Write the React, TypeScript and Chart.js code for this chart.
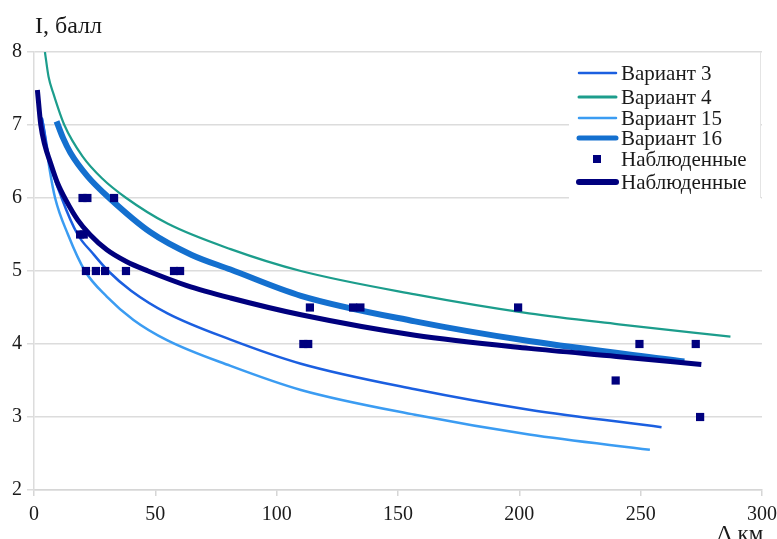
import React, { useEffect, useRef } from 'react';
import { Chart, registerables } from 'chart.js';

Chart.register(...registerables);

// ---- data ----
const v3Dist = [3.2, 3.8, 6.5, 11.4, 18, 24, 30.6, 40, 55, 81, 110, 157, 204, 258.6];
const v3Int = [7.1, 7.0, 6.5, 6.0, 5.5, 5.25, 5.0, 4.73, 4.42, 4.06, 3.73, 3.38, 3.1, 2.86];

const v4Dist = [4.5, 6, 8, 12.5, 20, 28, 38, 55, 81, 110, 157, 204, 241, 287];
const v4Int = [8.0, 7.66, 7.43, 7.0, 6.57, 6.27, 6.0, 5.65, 5.3, 5.0, 4.68, 4.42, 4.27, 4.1];

const v15Dist = [3.2, 3.8, 6.5, 8.7, 14, 21, 30, 41, 55, 81, 110, 157, 204, 253.8];
const v15Int = [7.1, 7.0, 6.38, 6.0, 5.5, 5.0, 4.65, 4.33, 4.05, 3.7, 3.37, 3.03, 2.76, 2.55];

const v16Dist = [9.3, 12, 15, 22, 31, 48, 65, 81, 110, 157, 204, 268];
const v16Int = [7.05, 6.82, 6.62, 6.3, 6.0, 5.53, 5.22, 5.02, 4.66, 4.31, 4.04, 3.76];

const obsFitDist = [1.4, 2.8, 4.5, 6.6, 9.5, 13.5, 18, 23, 30, 38, 47, 63, 81, 110, 157, 204, 240, 275];
const obsFitInt = [7.48, 7.0, 6.72, 6.5, 6.22, 5.95, 5.7, 5.5, 5.29, 5.13, 5.0, 4.8, 4.63, 4.4, 4.12, 3.94, 3.83, 3.72];

const obsDist = [20, 22, 33, 19, 20.5, 21.4, 25.5, 29.3, 37.9, 57.7, 60.2, 113.7, 131.5, 134.5, 199.5, 111, 113, 249.5, 272.7, 239.7, 274.5];
const obsInt = [6, 6, 6, 5.5, 5.5, 5, 5, 5, 5, 5, 5, 4.5, 4.5, 4.5, 4.5, 4, 4, 4, 4, 3.5, 3];

const xMin = 0, xMax = 300, xStep = 50;
const yMin = 2, yMax = 8, yStep = 1;

const seriesNames = ['Вариант 3', 'Вариант 4', 'Вариант 15', 'Вариант 16', 'Наблюденные', 'Наблюденные'];
const yTitle = 'I, балл';
const xTitle = 'Δ,км';

const C_V3 = '#1b5fe0';
const C_V4 = '#1c9d8c';
const C_V15 = '#3b9cf2';
const C_V16 = '#1470cf';
const C_OBS = '#00007e';

const FONT = '"Liberation Serif", "Times New Roman", serif';

const pts = (xs: number[], ys: number[]) => xs.map((x, i) => ({ x, y: ys[i] }));

export default function App() {
  const ref = useRef<HTMLCanvasElement | null>(null);

  useEffect(() => {
    const canvas = ref.current;
    if (!canvas) return;

    const legendItems = [
      { label: seriesNames[0], color: C_V3, kind: 'line', width: 2.5, y: 73 },
      { label: seriesNames[1], color: C_V4, kind: 'line', width: 3, y: 97 },
      { label: seriesNames[2], color: C_V15, kind: 'line', width: 2.5, y: 118 },
      { label: seriesNames[3], color: C_V16, kind: 'line', width: 5, y: 138 },
      { label: seriesNames[4], color: C_OBS, kind: 'rect', width: 0, y: 159 },
      { label: seriesNames[5], color: C_OBS, kind: 'line', width: 6, y: 182 },
    ];

    const overlay = {
      id: 'overlay',
      afterDraw(chart: any) {
        const ctx = chart.ctx as CanvasRenderingContext2D;
        ctx.save();
        ctx.fillStyle = '#1a1a1a';
        ctx.textBaseline = 'alphabetic';
        ctx.textAlign = 'left';
        ctx.font = `24px ${FONT}`;
        ctx.fillText(yTitle, 35, 33);
        ctx.font = `23px ${FONT}`;
        ctx.fillText(xTitle, 717, 541);

        // legend box
        ctx.fillStyle = '#ffffff';
        ctx.fillRect(569, 56, 192, 144);
        ctx.strokeStyle = '#e4e4e4';
        ctx.lineWidth = 1;
        ctx.beginPath();
        ctx.moveTo(760.5, 52);
        ctx.lineTo(760.5, 198);
        ctx.stroke();

        ctx.font = `21px ${FONT}`;
        ctx.textBaseline = 'middle';
        for (const it of legendItems) {
          if (it.kind === 'line') {
            ctx.strokeStyle = it.color;
            ctx.lineWidth = it.width;
            ctx.lineCap = 'round';
            ctx.beginPath();
            ctx.moveTo(579, it.y);
            ctx.lineTo(616, it.y);
            ctx.stroke();
          } else {
            ctx.fillStyle = it.color;
            ctx.fillRect(593, it.y - 4, 8, 8);
          }
          ctx.fillStyle = '#1a1a1a';
          ctx.fillText(it.label, 621, it.y + 1);
        }
        ctx.restore();
      },
    };

    const lineDs = (label: string, xs: number[], ys: number[], color: string, width: number, order: number) => ({
      type: 'scatter' as const,
      label,
      data: pts(xs, ys),
      showLine: true,
      borderColor: color,
      backgroundColor: color,
      borderWidth: width,
      pointRadius: 0,
      pointHoverRadius: 0,
      cubicInterpolationMode: 'monotone' as const,
      borderCapStyle: 'butt' as const,
      order,
    });

    const chart = new Chart(canvas, {
      type: 'scatter',
      data: {
        datasets: [
          {
            label: seriesNames[4],
            data: pts(obsDist, obsInt),
            showLine: false,
            pointStyle: 'rect',
            pointRadius: 5.8,
            pointHoverRadius: 5.8,
            pointBorderWidth: 0,
            backgroundColor: C_OBS,
            borderColor: C_OBS,
            order: 0,
          } as any,
          lineDs(seriesNames[5], obsFitDist, obsFitInt, C_OBS, 5, 1),
          lineDs(seriesNames[3], v16Dist, v16Int, C_V16, 6, 2),
          lineDs(seriesNames[0], v3Dist, v3Int, C_V3, 2.5, 3),
          lineDs(seriesNames[2], v15Dist, v15Int, C_V15, 2.5, 4),
          lineDs(seriesNames[1], v4Dist, v4Int, C_V4, 2.2, 5),
        ],
      },
      options: {
        responsive: false,
        animation: false,
        devicePixelRatio: 1,
        layout: { padding: { top: 52, right: 15, left: 0, bottom: 0 } },
        plugins: {
          legend: { display: false },
          tooltip: { enabled: false },
          title: { display: false },
        },
        scales: {
          x: {
            type: 'linear',
            min: xMin,
            max: xMax,
            ticks: {
              stepSize: xStep,
              color: '#1a1a1a',
              font: { family: FONT, size: 20 },
              padding: 7,
              maxRotation: 0,
            },
            grid: {
              drawOnChartArea: false,
              drawTicks: true,
              tickLength: 6,
              color: '#d6d6d6',
              lineWidth: 1.5,
            },
            border: { display: true, color: '#d6d6d6', width: 1.5 },
            afterFit: (s: any) => {
              s.height = 49;
              s.paddingLeft = 0;
              s.paddingRight = 0;
            },
          },
          y: {
            type: 'linear',
            min: yMin,
            max: yMax,
            ticks: {
              stepSize: yStep,
              color: '#1a1a1a',
              font: { family: FONT, size: 20 },
              padding: 5,
            },
            grid: {
              drawOnChartArea: true,
              drawTicks: true,
              tickLength: 7,
              color: '#dcdcdc',
              lineWidth: 1.5,
            },
            border: { display: true, color: '#dcdcdc', width: 1.5 },
            afterFit: (s: any) => {
              s.width = 34;
              s.paddingTop = 0;
              s.paddingBottom = 0;
            },
          },
        },
      } as any,
      plugins: [overlay],
    });

    return () => chart.destroy();
  }, []);

  return (
    <div style={{ position: 'absolute', left: 0, top: 0, width: 777, height: 539, background: '#fff' }}>
      <canvas ref={ref} width={777} height={539} style={{ display: 'block' }} />
    </div>
  );
}
